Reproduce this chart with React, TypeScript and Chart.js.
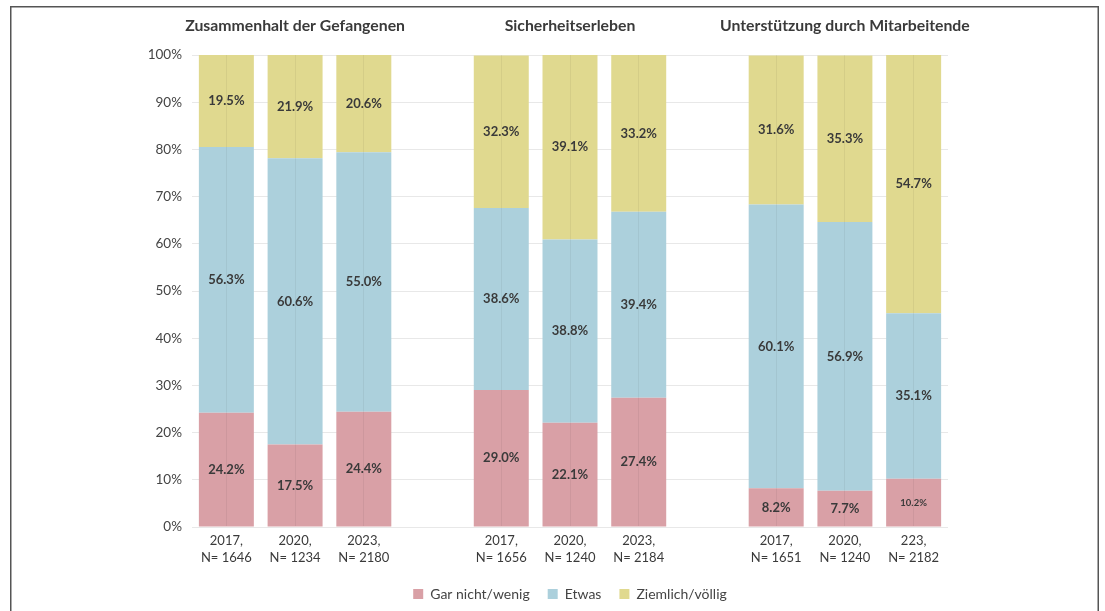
import { useEffect, useRef } from 'react';
import { Chart, registerables } from 'chart.js';

Chart.register(...registerables);

const categories: (string | string[])[] = [
  ['2017,', 'N= 1646'], ['2020,', 'N= 1234'], ['2023,', 'N= 2180'], '',
  ['2017,', 'N= 1656'], ['2020,', 'N= 1240'], ['2023,', 'N= 2184'], '',
  ['2017,', 'N= 1651'], ['2020,', 'N= 1240'], ['223,', 'N= 2182'],
];
const groupTitles = [
  '', 'Zusammenhalt der Gefangenen', '', '',
  '', 'Sicherheitserleben', '', '',
  '', 'Unterstützung durch Mitarbeitende', '',
];
const seriesNames = ['Gar nicht/wenig', 'Etwas', 'Ziemlich/völlig'];
const garNichtWenig = [24.2, 17.5, 24.4, null, 29.0, 22.1, 27.4, null, 8.2, 7.7, 10.2];
const etwas = [56.3, 60.6, 55.0, null, 38.6, 38.8, 39.4, null, 60.1, 56.9, 35.1];
const ziemlichVoellig = [19.5, 21.9, 20.6, null, 32.3, 39.1, 33.2, null, 31.6, 35.3, 54.7];

const FONT = 'Lato, "Noto Sans", sans-serif';
const TEXT = '#3a3a3a';

const valueLabels = {
  id: 'valueLabels',
  afterDatasetsDraw(chart: any) {
    const ctx = chart.ctx;
    ctx.save();
    ctx.textAlign = 'center';
    ctx.textBaseline = 'middle';
    ctx.fillStyle = TEXT;
    chart.data.datasets.forEach((ds: any, di: number) => {
      const meta = chart.getDatasetMeta(di);
      meta.data.forEach((el: any, i: number) => {
        const v = ds.data[i];
        if (v == null) return;
        const { x, y, base } = el.getProps(['x', 'y', 'base'], true);
        const small = di === 0 && i === 10;
        ctx.font = `bold ${small ? 9.5 : 13}px ${FONT}`;
        ctx.fillText(v.toFixed(1) + '%', x, (y + base) / 2);
      });
    });
    ctx.restore();
  },
};

const groupTitlePlugin = {
  id: 'groupTitles',
  afterDraw(chart: any) {
    const ctx = chart.ctx;
    const xs = chart.scales.x;
    ctx.save();
    ctx.textAlign = 'center';
    ctx.textBaseline = 'middle';
    ctx.fillStyle = TEXT;
    ctx.font = `bold 15.8px ${FONT}`;
    groupTitles.forEach((t, i) => {
      if (!t) return;
      ctx.fillText(t, xs.getPixelForValue(i), chart.chartArea.top - 29);
    });
    ctx.restore();
  },
};

const frame = {
  id: 'frame',
  afterDraw(chart: any) {
    const ctx = chart.ctx;
    ctx.save();
    ctx.fillStyle = '#ffffff';
    ctx.fillRect(0, 0, chart.width, 5.5);
    ctx.strokeStyle = '#555';
    ctx.lineWidth = 1.5;
    ctx.beginPath();
    ctx.moveTo(10.75, chart.height + 2);
    ctx.lineTo(10.75, 6.75);
    ctx.lineTo(1098.25, 6.75);
    ctx.lineTo(1098.25, chart.height + 2);
    ctx.stroke();
    ctx.restore();
  },
};

export default function App() {
  const ref = useRef<HTMLCanvasElement>(null);
  useEffect(() => {
    if (!ref.current) return;
    const chart = new Chart(ref.current, {
      type: 'bar',
      data: {
        labels: categories,
        datasets: [
          { label: seriesNames[0], data: garNichtWenig, backgroundColor: '#d9a0a6' },
          { label: seriesNames[1], data: etwas, backgroundColor: '#acd0dc' },
          { label: seriesNames[2], data: ziemlichVoellig, backgroundColor: '#e0d98f' },
        ],
      },
      options: {
        animation: false,
        responsive: false,
        maintainAspectRatio: false,
        datasets: { bar: { categoryPercentage: 1, barPercentage: 0.8 } },
        layout: { padding: { left: 130, right: 157, top: 55, bottom: 0 } },
        plugins: {
          tooltip: { enabled: false },
          legend: {
            position: 'bottom',
            fullSize: false,
            labels: {
              boxWidth: 10,
              boxHeight: 10,
              padding: 18,
              color: '#444',
              font: { family: FONT, size: 14 },
            },
          },
        },
        scales: {
          x: {
            stacked: true,
            offset: true,
            grid: {
              offset: false,
              drawTicks: false,
              z: 1,
              color: (c: any) => (categories[c.index] === '' ? 'rgba(0,0,0,0)' : 'rgba(0,0,0,0.05)'),
            },
            border: { display: true, color: '#cfcfcf', width: 1.5 },
            ticks: {
              autoSkip: false,
              maxRotation: 0,
              minRotation: 0,
              padding: 5,
              color: TEXT,
              font: { family: FONT, size: 13, lineHeight: 1.3 },
            },
            afterFit: (s: any) => { s.height = 42; },
          },
          y: {
            stacked: true,
            min: 0,
            max: 100,
            ticks: {
              stepSize: 10,
              padding: 10,
              color: '#444',
              font: { family: FONT, size: 13.5 },
              callback: (v: any) => v + '%',
            },
            grid: { color: '#e8e8e8', drawTicks: false },
            border: { display: false },
            afterFit: (s: any) => { s.width = 62; },
          },
        },
      },
      plugins: [valueLabels, groupTitlePlugin, frame],
    } as any);
    return () => chart.destroy();
  }, []);

  return (
    <canvas
      ref={ref}
      width={1105}
      height={611}
      style={{ position: 'absolute', left: 0, top: 0, width: 1105, height: 611 }}
    />
  );
}
